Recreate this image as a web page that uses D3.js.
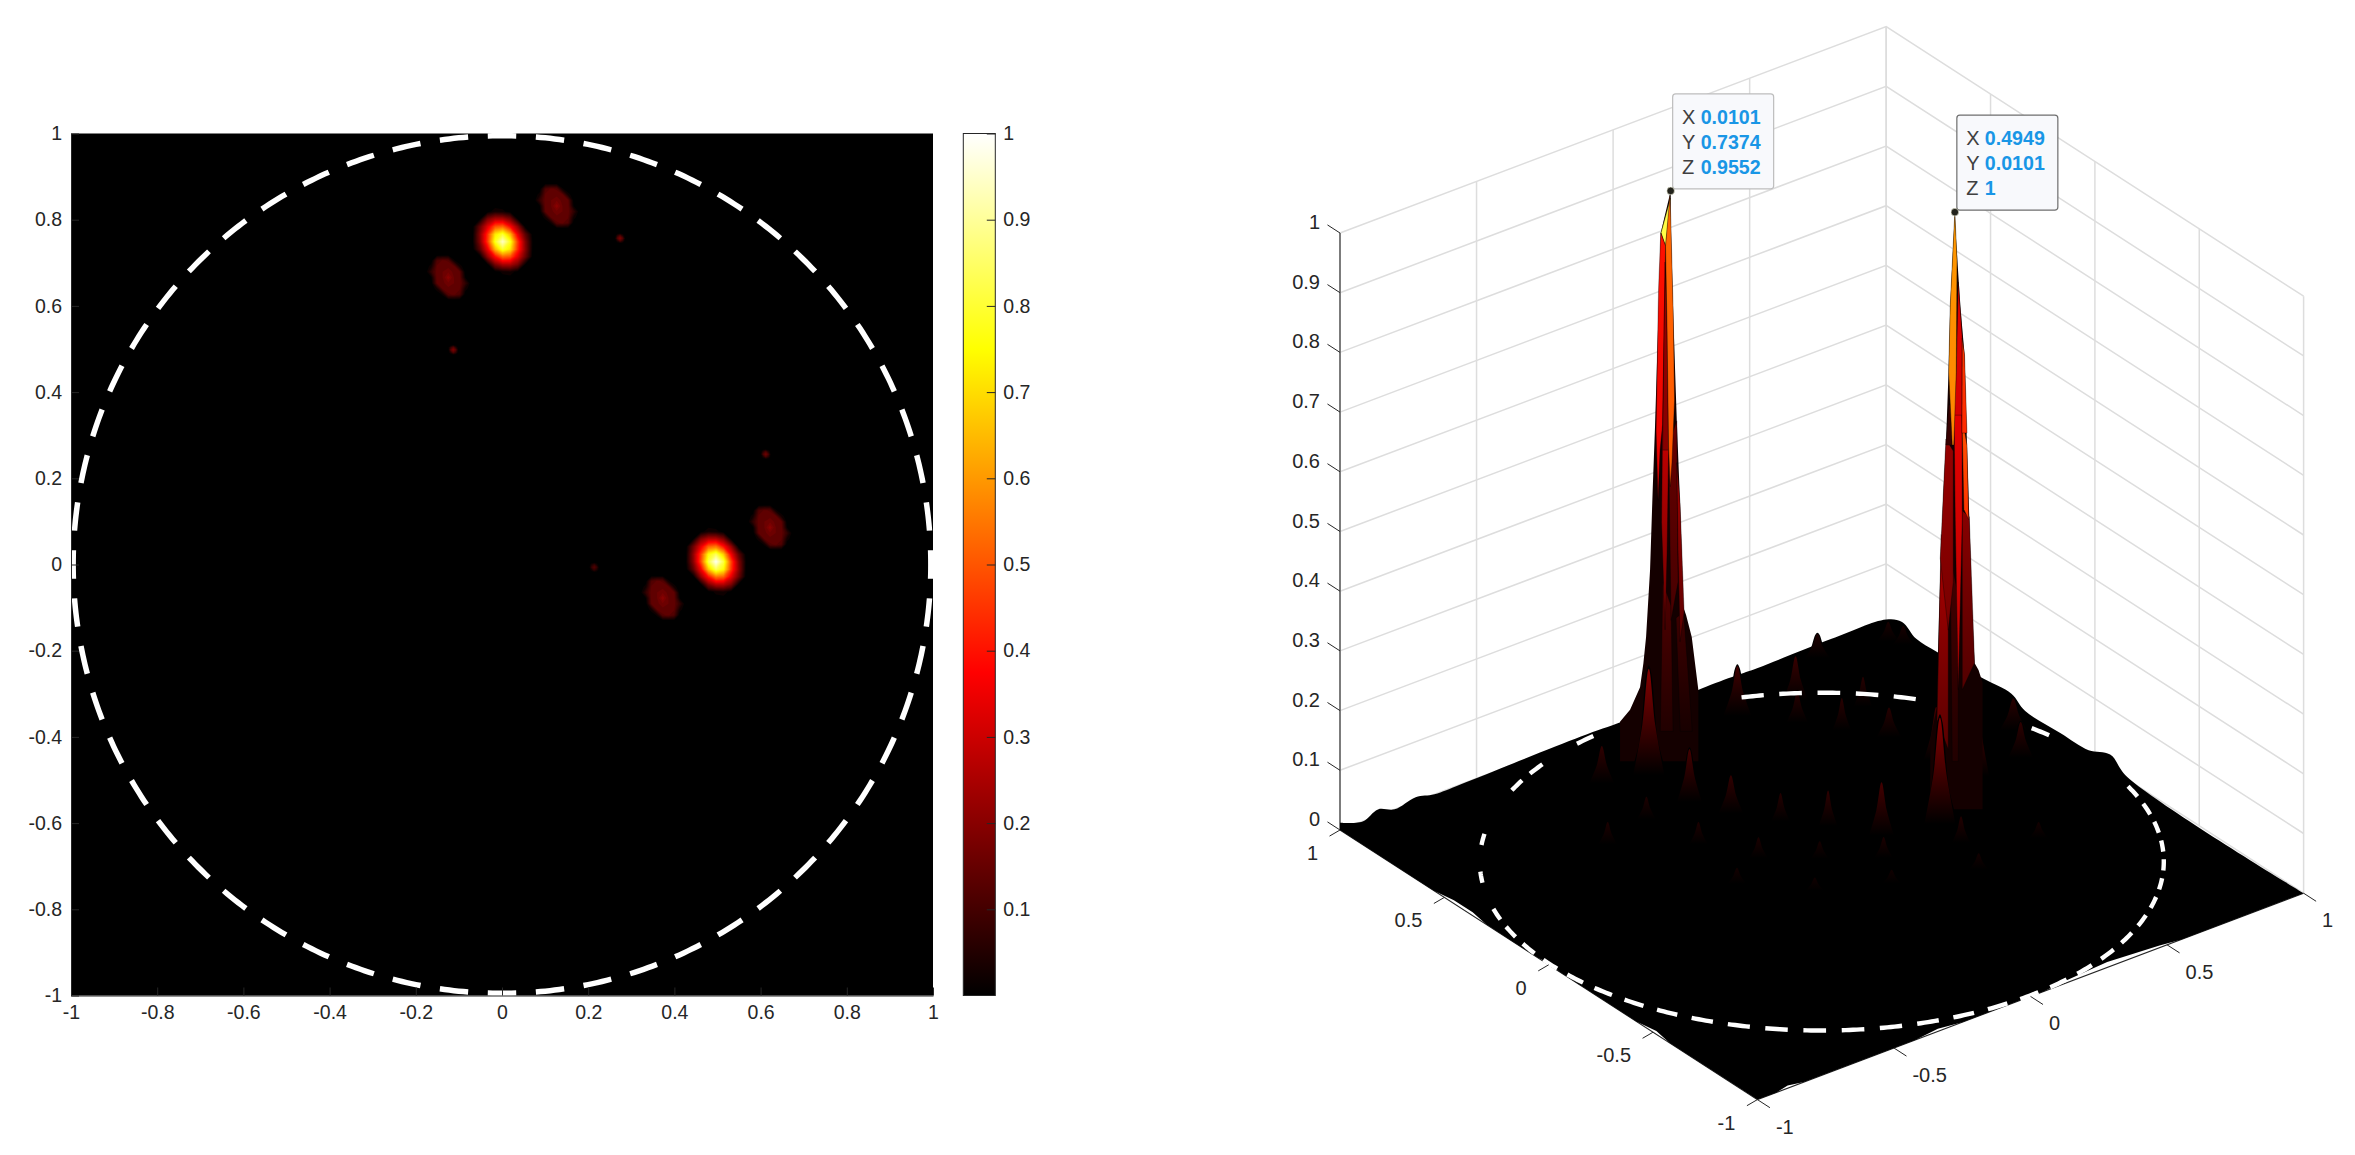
<!DOCTYPE html>
<html>
<head>
<meta charset="utf-8">
<script src="https://cdn.jsdelivr.net/npm/d3@7"></script>
<style>
  html,body{margin:0;padding:0;background:#fff}
  text{font-family:"Liberation Sans",Arial,sans-serif;fill:#262626}
</style>
</head>
<body>
<svg id="chart" width="2355" height="1155"></svg>
<script>
'use strict'

// ---- data ----
const planeTicks = [-1,-0.8,-0.6,-0.4,-0.2,0,0.2,0.4,0.6,0.8,1]
const colorTicks = [0.1,0.2,0.3,0.4,0.5,0.6,0.7,0.8,0.9,1]
const zTicks = [0,0.1,0.2,0.3,0.4,0.5,0.6,0.7,0.8,0.9,1]
const floorTicks = [-1,-0.5,0,0.5,1]
const hotStops = [0,0.375,0.75,1]
const hotColors = ['#000000','#ff0000','#ffff00','#ffffff']

// field around a main peak, rows top to bottom, sampled every mainStep
const mainStep = 0.0175
const mainLobe = [
  [0,0,0,0,0,0,0,0,0,0,0],
  [0,0,0,.005,.04,.03,.003,0,0,0,0],
  [0,0,.02,.20,.28,.28,.20,.02,0,0,0],
  [0,0,.17,.35,.53,.56,.41,.23,.005,0,0],
  [0,.005,.22,.47,.76,.85,.68,.37,.15,0,0],
  [0,.01,.21,.49,.83,1,.83,.49,.21,.01,0],
  [0,0,.15,.37,.68,.85,.76,.47,.22,.005,0],
  [0,0,.005,.23,.41,.56,.53,.35,.17,0,0],
  [0,0,0,.02,.20,.28,.28,.20,.02,0,0],
  [0,0,0,0,.003,.03,.04,.005,0,0,0],
  [0,0,0,0,0,0,0,0,0,0,0]
]
const sideStep = 0.0132
const sideLobe = [
  [0,0,0,0,0,0,0,0,0],
  [0,0,.15,.18,.17,.03,0,0,0],
  [0,.04,.18,.19,.19,.18,.04,0,0],
  [0,.10,.19,.20,.22,.19,.18,0,0],
  [0,.02,.19,.20,.27,.20,.19,.02,0],
  [0,0,.18,.19,.22,.20,.19,.10,0],
  [0,0,.04,.18,.19,.19,.18,.04,0],
  [0,0,0,.03,.17,.18,.15,0,0],
  [0,0,0,0,0,0,0,0,0]
]
const speckStep = 0.006
const speck = [
  [0,0,0,0,0],
  [0,.08,.15,.06,0],
  [0,.15,.22,.15,0],
  [0,.06,.15,.08,0],
  [0,0,0,0,0]
]
// [x, y, amplitude]
const mainPeaks = [[0.0016,0.749,0.955],[0.4965,0.0065,1]]
const sidePeaks = [[0.127,0.832,0.8],[-0.1246,0.666,0.8],[0.622,0.086,0.8],[0.373,-0.078,0.8]]
const speckPeaks = [[0.274,0.757,0.9],[-0.113,0.498,0.9],[0.612,0.256,0.8],[0.214,-0.0065,0.6]]

// dashed ring
const ringRadius = 0.995
const ringDashes = 56
const ringDashHalf = 1.9
// angle ranges of the ring that can be seen on the surface
const ringVisible = [[8,13],[36,46],[50,65],[93,101],[104,110],[115,121],[133,136],[143,151],[155,350]]

// surface rim: [x, z] along y=1, [y, z] along x=1
const rimBackLeft = [[-1,.012],[-.917,0],[-.861,.0105],[-.8,0],[-.723,.007],[-.654,0],[-.557,0],[-.118,.004],[.038,.003],[.322,.008],[.45,.008],[.527,.007],[.8,.009],[1,.007]]
const rimBackRight = [[.924,.02],[.856,.007],[.756,.0075],[.535,.013],[.4,.018],[.334,.004],[.166,.005],[.03,.007],[-.073,.023],[-.155,.004]]
// surface pulls in from the front floor edges: [x, inset] at y=-1, [y, inset] at x=-1
const rimFrontX = [[1,0],[.55,0],[.48,.01],[.3,.025],[.12,.01],[.05,0],[-.25,0],[-.33,.012],[-.42,0],[-.83,0],[-.88,.012],[-.93,0],[-1,0]]
const rimFrontY = [[-1,0],[-.58,0],[-.5,.012],[-.42,0],[-.05,0],[0,.008],[.05,0],[.3,0],[.38,.012],[.47,.012],[.55,0],[1,0]]

// small bumps of the surface: [x, y, height, half width]
const bumps = [
  [.71,.95,.046,.04],[.935,.905,.037,.035],[.957,.862,.036,.035],[.31,.81,.094,.045],
  [.5,.78,.084,.04],[.43,.68,.06,.035],[.505,.565,.061,.03],[.64,.64,.056,.03],
  [.59,.45,.056,.04],[.9,.26,.061,.045],[.82,.12,.067,.04],[-.24,.74,.07,.04],
  [-.05,.37,.072,.04],[.04,.25,.053,.03],[.13,.14,.067,.03],[-.26,.5,.042,.03],
  [-.44,.45,.042,.03],[-.23,.29,.042,.03],[-.14,.12,.039,.03],[0,.01,.033,.03],
  [.15,-.1,.039,.03],[.33,-.32,.03,.03],[.08,-.23,.025,.03],[-.28,.04,.03,.03],
  [-.125,-.13,.025,.03],[.58,-.28,.03,.03],[.38,-.17,.05,.03],
  [-.11,.49,.1,.04],[.61,.25,.1,.04],[.215,-.005,.1,.04],
  [.127,.832,.2,.05],[-.1246,.666,.2,.05],[.622,.086,.2,.05],[.373,-.078,.2,.05]
]

// data tips
const tips = [{x:0.0101,y:0.7374,z:0.9552},{x:0.4949,y:0.0101,z:1}]

// tall spikes: outline and facets as [width across the screen, z], v is the facet's colour at its top
const spikeOutlineA = [[0,.9552],[-.0229,.885],[-.0261,.798],[-.036,.563],[-.0413,.459],[-.0476,.32],[-.0568,.208],[-.063,.164],[-.0707,.124],[-.0938,.086],[-.117,.066],[-.117,0],[.064,0],[.064,.119],[.0487,.208],[.0356,.245],[.0293,.258],[.0217,.432],[.0141,.571],[.0062,.742],[0,.91]]
const spikeFacetsA = [
  {v:.12,fade:.4,p:[[-.018,.3],[.001,.26],[.0055,.05],[-.024,.05]]},
  {v:.09,fade:.4,p:[[.0125,.24],[.03,.25],[.05,.05],[.022,.05]]},
  {v:.15,fade:.7,p:[[-.0048,.53],[.0141,.57],[.0171,.3],[.001,.236]]},
  {v:.29,fade:.55,p:[[-.0187,.56],[-.0048,.52],[-.0083,.349],[-.0129,.22],[-.021,.4]]},
  {v:.24,fade:.55,p:[[.0141,.5],[.0217,.432],[.031,.25],[.0217,.2],[.0171,.35]]},
  {v:.82,fade:1,p:[[-.0004,.943],[-.0222,.885],[-.0118,.863],[-.006,.903]]},
  {v:.4,fade:.85,p:[[-.0229,.885],[-.0118,.863],[-.0152,.722],[-.0187,.563],[-.0245,.521],[-.0291,.437],[-.0337,.553],[-.028,.789]]},
  {v:.22,fade:.9,p:[[-.0129,.836],[-.0083,.722],[-.0048,.521],[-.0187,.521],[-.0152,.722]]},
  {v:.53,fade:.95,p:[[-.0016,.948],[-.0118,.863],[-.0083,.722],[-.0048,.526],[-.001,.46],[.003,.5],[.009,.605],[.0062,.742],[.0002,.91]]}
]
const spikeOutlineB = [[0,1],[-.003,.957],[-.0106,.845],[-.0146,.732],[-.0206,.61],[-.0261,.535],[-.0337,.396],[-.039,.262],[-.0413,.171],[-.0568,.116],[-.0568,0],[.064,0],[.064,.212],[.0547,.233],[.0455,.245],[.0395,.339],[.0333,.49],[.028,.61],[.0224,.761],[.0125,.845],[.0025,.957]]
const spikeFacetsB = [
  {v:.26,fade:.5,p:[[-.0314,.46],[-.0152,.42],[-.0152,.1],[-.0413,.15]]},
  {v:.1,fade:.5,p:[[-.0106,.42],[.0079,.36],[.0079,.08],[-.006,.08]]},
  {v:.2,fade:.6,p:[[.0171,.5],[.0333,.49],[.0455,.245],[.0171,.2]]},
  {v:.22,fade:.8,p:[[-.0206,.62],[-.0037,.6],[-.0037,.38],[-.0152,.3],[-.0337,.42]]},
  {v:.34,fade:.8,p:[[-.0025,.7],[.0164,.7],[.0171,.485],[.0079,.2],[.0009,.485]]},
  {v:.5,fade:.9,p:[[.0164,.66],[.028,.61],[.032,.485],[.0209,.502]]},
  {v:.08,fade:1,p:[[-.0141,.677],[-.0083,.677],[-.006,.61],[-.0206,.61]]},
  {v:.33,fade:.95,p:[[.0079,.883],[.0171,.789],[.0164,.66],[-.0025,.66],[.0032,.732]]},
  {v:.46,fade:.95,p:[[.0171,.789],[.0224,.761],[.028,.63],[.0164,.63]]},
  {v:.6,fade:.95,p:[[0,1],[-.0106,.845],[-.0142,.732],[-.006,.61],[-.0025,.61],[.0032,.732],[.005,.92]]}
]

// ---- scales ----
const x2d = d3.scaleLinear([-1,1],[71,933])
const y2d = d3.scaleLinear([-1,1],[995.5,133.5])
const yBar = d3.scaleLinear([0,1],[995.5,133.5])
const hot = d3.scaleLinear().domain(hotStops).range(hotColors).clamp(true)

const svg = d3.select('#chart')
const defs = svg.append('defs')
const line = d3.line()
const smooth = d3.line().curve(d3.curveCatmullRom.alpha(0.5))

// ---- left panel ----
const left = svg.append('g')
left.append('rect').attr('x',x2d(-1)).attr('y',y2d(1))
  .attr('width',x2d(1)-x2d(-1)).attr('height',y2d(-1)-y2d(1)).attr('fill','#000')

const levels = d3.range(0.02,1.001,0.02)
const blobs = left.append('g').style('filter','blur(0.7px)')

function drawBlob(matrix,cx,cy,step,amp){
  let rows = matrix.length
  let cols = matrix[0].length
  let values = matrix.flat().map(v=>v*amp)
  let contours = d3.contours().size([cols,rows]).thresholds(levels)(values)
  let path = d3.geoPath(d3.geoTransform({
    point(px,py){
      this.stream.point(x2d(cx+(px-0.5-(cols-1)/2)*step),y2d(cy-(py-0.5-(rows-1)/2)*step))
    }
  }))
  blobs.append('g').selectAll('path').data(contours).join('path')
    .attr('d',path).attr('fill',d=>hot(d.value))
}
speckPeaks.forEach(d=>drawBlob(speck,d[0],d[1],speckStep,d[2]))
sidePeaks.forEach(d=>drawBlob(sideLobe,d[0],d[1],sideStep,d[2]))
mainPeaks.forEach(d=>drawBlob(mainLobe,d[0],d[1],mainStep,d[2]))

const dashAngles = d3.range(ringDashes).map(i=>i*360/ringDashes)
function dashPoints(angle,toScreen){
  return d3.range(-ringDashHalf,ringDashHalf+0.01,ringDashHalf/3).map(a=>{
    let t = (angle+a)*Math.PI/180
    return toScreen(ringRadius*Math.cos(t),ringRadius*Math.sin(t))
  })
}
left.append('g').selectAll('path').data(dashAngles).join('path')
  .attr('d',a=>line(dashPoints(a,(x,y)=>[x2d(x),y2d(y)])))
  .attr('fill','none').attr('stroke','#fff').attr('stroke-width',5.5)

function styleAxis(g){
  g.selectAll('text').attr('font-size',19.5)
  g.selectAll('line').attr('stroke','#262626')
  g.select('.domain').attr('stroke','#262626')
  g.attr('font-family',null)
}
left.append('g').attr('transform',`translate(0,${y2d(-1)})`)
  .call(d3.axisBottom(x2d).tickValues(planeTicks).tickSize(-8).tickSizeOuter(0).tickPadding(10).tickFormat(String))
  .call(styleAxis)
left.append('g').attr('transform',`translate(${x2d(-1)},0)`)
  .call(d3.axisLeft(y2d).tickValues(planeTicks).tickSize(-8).tickSizeOuter(0).tickPadding(9).tickFormat(String))
  .call(styleAxis)

// colour bar
const barX = 963.3
const barW = 32
const grad = defs.append('linearGradient').attr('id','hotbar')
  .attr('x1',0).attr('x2',0).attr('y1',1).attr('y2',0)
grad.selectAll('stop').data(hotStops).join('stop')
  .attr('offset',d=>d).attr('stop-color',d=>hot(d))
const bar = svg.append('g')
bar.append('rect').attr('x',barX).attr('y',yBar(1)).attr('width',barW)
  .attr('height',yBar(0)-yBar(1)).attr('fill','url(#hotbar)')
  .attr('stroke','#262626').attr('stroke-width',1)
bar.append('g').attr('transform',`translate(${barX+barW},0)`)
  .call(d3.axisRight(yBar).tickValues(colorTicks).tickSize(-8.5).tickSizeOuter(0).tickPadding(8).tickFormat(String))
  .call(styleAxis)
  .call(g=>g.select('.domain').remove())

// ---- right panel ----
const corner = [1757.4,1099.6]
function project(x,y,z=0){
  return [
    corner[0]+(x+1)*273.1-(y+1)*208.7,
    corner[1]-(x+1)*103.2-(y+1)*134.8-z*597
  ]
}
// moving along this direction on the floor only moves the point across the screen
function across(x,y,w,z){ return project(x+w,y-0.7656*w,z) }

let gradCount = 0
function fadeGradient(top,bottom){
  let id = 'fade'+(gradCount++)
  let g = defs.append('linearGradient').attr('id',id).attr('x1',0).attr('x2',0).attr('y1',0).attr('y2',1)
  g.append('stop').attr('offset',0).attr('stop-color',top)
  g.append('stop').attr('offset',1).attr('stop-color',bottom)
  return `url(#${id})`
}

const right = svg.append('g')
const walls = right.append('g').attr('fill','none').attr('stroke','#dddddd').attr('stroke-width',1.5)
walls.selectAll('.h').data(zTicks).join('path').attr('class','h')
  .attr('d',z=>line([project(-1,1,z),project(1,1,z),project(1,-1,z)]))
walls.selectAll('.vl').data(floorTicks).join('path').attr('class','vl')
  .attr('d',t=>line([project(t,1,0),project(t,1,1)]))
walls.selectAll('.vr').data(floorTicks).join('path').attr('class','vr')
  .attr('d',t=>line([project(1,t,0),project(1,t,1)]))

// front axis lines sit under the surface rim
const axes3d = right.append('g').attr('stroke','#262626').attr('fill','none').attr('stroke-width',1.1)
axes3d.append('path').attr('d',line([project(-1,1),project(-1,-1),project(1,-1)]))
axes3d.append('path').attr('d',line([project(-1,1,0),project(-1,1,1)]))

const rimBack = [
  ...rimBackLeft.map(d=>project(d[0],1,d[1])),
  ...rimBackRight.map(d=>project(1,d[0],d[1])),
  project(1,-1)
]
const rimFront = [
  ...rimFrontX.map(d=>project(d[0],-1+d[1])),
  ...rimFrontY.map(d=>project(-1+d[1],d[0]))
]
right.append('path').attr('d',smooth(rimBack)+'L'+rimFront.join('L')+'Z').attr('fill','#000')

// bumps and spikes painted from the back forwards
const items = [
  ...bumps.map(d=>({kind:'bump',x:d[0],y:d[1],h:d[2],w:d[3]})),
  {kind:'spike',x:tips[0].x,y:tips[0].y,outline:spikeOutlineA,facets:spikeFacetsA},
  {kind:'spike',x:tips[1].x,y:tips[1].y,outline:spikeOutlineB,facets:spikeFacetsB}
]
const bellX = [-1,-0.45,-0.12,0,0.12,0.45,1]
const bellZ = [0,0.35,0.93,1,0.93,0.35,0]
const surface = right.append('g').style('filter','blur(0.45px)')
d3.sort(items,d=>-(d.x+d.y)).forEach(d=>{
  let g = surface.append('g')
  if(d.kind==='bump'){
    g.append('path').attr('d',smooth(bellX.map((b,i)=>across(d.x,d.y,b*d.w,bellZ[i]*d.h))))
      .attr('fill','#000')
    g.append('path').attr('d',smooth([
      across(d.x,d.y,-0.72*d.w,0.08*d.h),
      across(d.x,d.y,-0.3*d.w,0.5*d.h),
      across(d.x,d.y,0,0.97*d.h),
      across(d.x,d.y,0.3*d.w,0.5*d.h),
      across(d.x,d.y,0.72*d.w,0.08*d.h)
    ])+'Z').attr('fill',fadeGradient(hot(d.h),'#000'))
  } else {
    g.append('path').attr('d',line(d.outline.map(p=>across(d.x,d.y,p[0],p[1])))+'Z').attr('fill','#140000')
    g.selectAll('path.facet').data(d.facets).join('path').attr('class','facet')
      .attr('d',f=>line(f.p.map(p=>across(d.x,d.y,p[0],p[1])))+'Z')
      .attr('fill',f=>fadeGradient(hot(f.v),hot(f.v*f.fade)))
      .attr('stroke','#000').attr('stroke-width',0.5).attr('stroke-opacity',0.7)
  }
})

// ring on the surface, only the dashes that are not buried
right.append('g').attr('fill','none').attr('stroke','#fff').attr('stroke-width',4.4)
  .selectAll('path').data(dashAngles.filter(a=>ringVisible.some(r=>a>=r[0] && a<=r[1])))
  .join('path').attr('d',a=>line(dashPoints(a,(x,y)=>project(x,y))))

// tick marks and labels of the 3d axes
function tickLines(cls,data,from,to){
  ticks3d.selectAll('.'+cls).data(data).join('line').attr('class',cls)
    .attr('x1',d=>from(d)[0]).attr('y1',d=>from(d)[1])
    .attr('x2',d=>to(d)[0]).attr('y2',d=>to(d)[1])
}
const ticks3d = right.append('g').attr('stroke','#262626').attr('stroke-width',1)
tickLines('tz',zTicks,z=>project(-1,1,z),z=>project(-1,1.06,z))
tickLines('tx',floorTicks,t=>project(t,-1),t=>project(t,-1.06))
tickLines('ty',floorTicks,t=>project(-1,t),t=>project(-1.046,t-0.01))

const labels3d = right.append('g').attr('font-size',20)
labels3d.selectAll('.lz').data(zTicks).join('text').attr('class','lz')
  .attr('x',project(-1,1)[0]-20).attr('y',z=>project(-1,1,z)[1]-11)
  .attr('text-anchor','end').attr('dominant-baseline','central').text(String)
labels3d.selectAll('.lx').data(floorTicks).join('text').attr('class','lx')
  .attr('x',t=>project(t,-1)[0]+18.5).attr('y',t=>project(t,-1)[1]+27)
  .attr('text-anchor','start').attr('dominant-baseline','central').text(String)
labels3d.selectAll('.ly').data(floorTicks).join('text').attr('class','ly')
  .attr('x',t=>project(-1,t)[0]-22).attr('y',t=>project(-1,t)[1]+23)
  .attr('text-anchor','end').attr('dominant-baseline','central').text(String)

// data tips
const tipG = right.append('g').selectAll('g').data(tips).join('g')
  .attr('transform',d=>{
    let p = project(d.x,d.y,d.z)
    return `translate(${p[0]},${p[1]})`
  })
tipG.append('rect').attr('x',2).attr('y',-97).attr('width',101).attr('height',95).attr('rx',3)
  .attr('fill','#f8f9fc').attr('stroke',(d,i)=>i ? '#6e6e6e' : '#bdbdbd').attr('stroke-width',1.2)
tipG.append('circle').attr('r',3.8).attr('fill','#23231c').attr('stroke','#f4f4dc').attr('stroke-width',0.6)
;['x','y','z'].forEach((k,row)=>{
  let yPos = -97+23+row*25
  tipG.append('text').attr('x',11.4).attr('y',yPos).attr('dominant-baseline','central')
    .attr('font-size',20).style('fill','#404040').text(k.toUpperCase())
  tipG.append('text').attr('x',30).attr('y',yPos).attr('dominant-baseline','central')
    .attr('font-size',19.6).attr('font-weight','bold').style('fill','#1996e6').text(d=>String(d[k]))
})
</script>
</body>
</html>
